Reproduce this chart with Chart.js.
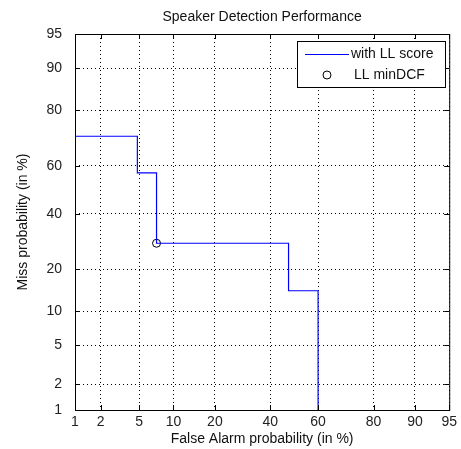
<!DOCTYPE html>
<html>
<head>
<meta charset="utf-8">
<script src="https://cdn.jsdelivr.net/npm/chart.js@4.4.0/dist/chart.umd.min.js"></script>
<style>
  html, body { margin: 0; padding: 0; background: #fff; }
  #wrap { width: 461px; height: 449px; }
</style>
</head>
<body>
<div id="wrap"><canvas id="det"></canvas></div>
<script>
// tick positions on both axes (percent)
const tickValues = [1, 2, 5, 10, 20, 40, 60, 80, 90, 95];
const tickLabels = ["1", "2", "5", "10", "20", "40", "60", "80", "90", "95"];

// DET curve vertices (percent), drawn as a step line
const falseAlarm = [0, 4.8, 7.2, 47.6, 60];
const missProb = [71.4, 57.1, 28.6, 14.3, 0];

// min DCF operating point
const minDcfFa = [7.2];
const minDcfMiss = [28.6];

const chartTitle = "Speaker Detection Performance";
const FONT = '"Liberation Sans", Arial, sans-serif';

// inverse normal cdf (Acklam)
function probit(p) {
    if (p <= 0) return -10;
    if (p >= 1) return 10;
    const a = [-3.969683028665376e+01, 2.209460984245205e+02, -2.759285104469687e+02, 1.383577518672690e+02, -3.066479806614716e+01, 2.506628277459239e+00];
    const b = [-5.447609879822406e+01, 1.615858368580409e+02, -1.556989798598866e+02, 6.680131188771972e+01, -1.328068155288572e+01];
    const c = [-7.784894002430293e-03, -3.223964580411365e-01, -2.400758277161838e+00, -2.549732539343734e+00, 4.374664141464968e+00, 2.938163982698783e+00];
    const d = [7.784695709041462e-03, 3.224671290700398e-01, 2.445134137142996e+00, 3.754408661907416e+00];
    const pl = 0.02425;
    let q, r;
    if (p < pl) {
        q = Math.sqrt(-2 * Math.log(p));
        return (((((c[0] * q + c[1]) * q + c[2]) * q + c[3]) * q + c[4]) * q + c[5]) /
            ((((d[0] * q + d[1]) * q + d[2]) * q + d[3]) * q + 1);
    }
    if (p <= 1 - pl) {
        q = p - 0.5;
        r = q * q;
        return (((((a[0] * r + a[1]) * r + a[2]) * r + a[3]) * r + a[4]) * r + a[5]) * q /
            (((((b[0] * r + b[1]) * r + b[2]) * r + b[3]) * r + b[4]) * r + 1);
    }
    q = Math.sqrt(-2 * Math.log(1 - p));
    return -(((((c[0] * q + c[1]) * q + c[2]) * q + c[3]) * q + c[4]) * q + c[5]) /
        ((((d[0] * q + d[1]) * q + d[2]) * q + d[3]) * q + 1);
}

const toPoints = (xs, ys) => xs.map((x, i) => ({ x: probit(x / 100), y: probit(ys[i] / 100) }));

function detAxis(titleText, titlePad, tickPad) {
    return {
        type: "linear",
        min: probit(tickValues[0] / 100),
        max: probit(tickValues[tickValues.length - 1] / 100),
        afterBuildTicks: (scale) => {
            scale.ticks = tickValues.map((v) => ({ value: probit(v / 100) }));
        },
        ticks: {
            autoSkip: false,
            maxRotation: 0,
            padding: tickPad,
            color: "#222",
            font: { family: FONT, size: 14 },
            callback: (value, index) => tickLabels[index],
        },
        grid: { color: "#000", lineWidth: 1, drawTicks: false },
        border: { display: false, dash: [1, 3] },
        title: {
            display: true,
            text: titleText,
            color: "#111",
            padding: titlePad,
            font: { family: FONT, size: 14 },
        },
    };
}

// white page, title, axes box, inward tick marks and the legend
const matlabFrame = {
    id: "matlabFrame",
    beforeDraw(chart) {
        const ctx = chart.ctx;
        ctx.save();
        ctx.fillStyle = "#fff";
        ctx.fillRect(0, 0, chart.width, chart.height);
        ctx.restore();
    },
    afterDraw(chart) {
        const ctx = chart.ctx;
        const { left, right, top, bottom } = chart.chartArea;
        const xs = chart.scales.x;
        const ys = chart.scales.y;
        ctx.save();

        ctx.font = "14px " + FONT;
        ctx.fillStyle = "#111";
        ctx.textAlign = "center";
        ctx.textBaseline = "middle";
        ctx.fillText(chartTitle, (left + right) / 2, 17);

        ctx.strokeStyle = "#000";
        ctx.lineWidth = 1;
        ctx.setLineDash([]);
        ctx.strokeRect(left + 0.5, top + 0.5, right - left, bottom - top);

        ctx.beginPath();
        tickValues.forEach((v) => {
            const px = Math.round(xs.getPixelForValue(probit(v / 100))) + 0.5;
            ctx.moveTo(px, bottom);
            ctx.lineTo(px, bottom - 5);
            ctx.moveTo(px, top);
            ctx.lineTo(px, top + 5);
            const py = Math.round(ys.getPixelForValue(probit(v / 100))) + 0.5;
            ctx.moveTo(left, py);
            ctx.lineTo(left + 5, py);
            ctx.moveTo(right, py);
            ctx.lineTo(right - 5, py);
        });
        ctx.stroke();

        // legend box
        const lx = 297, ly = 41, lw = 148, lh = 46;
        ctx.fillStyle = "#fff";
        ctx.fillRect(lx, ly, lw, lh);
        ctx.strokeRect(lx + 0.5, ly + 0.5, lw, lh);

        const sets = chart.data.datasets;
        ctx.font = "14px " + FONT;
        ctx.textBaseline = "middle";
        ctx.textAlign = "left";

        ctx.strokeStyle = sets[0].borderColor;
        ctx.beginPath();
        ctx.moveTo(305, 54.5);
        ctx.lineTo(349, 54.5);
        ctx.stroke();
        ctx.fillStyle = "#111";
        ctx.fillText(sets[0].label, 351, 54);

        ctx.strokeStyle = sets[1].borderColor;
        ctx.beginPath();
        ctx.arc(327, 75, 4, 0, Math.PI * 2);
        ctx.stroke();
        ctx.fillText(sets[1].label, 354, 75);
        ctx.restore();
    },
};

new Chart(document.getElementById("det"), {
    type: "scatter",
    data: {
        datasets: [
            {
                type: "line",
                label: "with LL score",
                data: toPoints(falseAlarm, missProb),
                stepped: true,
                borderColor: "#0000ff",
                borderWidth: 1.2,
                pointRadius: 0,
                fill: false,
            },
            {
                label: "LL minDCF",
                data: toPoints(minDcfFa, minDcfMiss),
                pointStyle: "circle",
                pointRadius: 4,
                pointBackgroundColor: "rgba(0,0,0,0)",
                borderColor: "#000",
                pointBorderColor: "#000",
                pointBorderWidth: 1,
            },
        ],
    },
    plugins: [matlabFrame],
    options: {
        responsive: true,
        maintainAspectRatio: false,
        animation: false,
        layout: { padding: { left: 0, right: 9, top: 34, bottom: 0 } },
        plugins: {
            legend: { display: false },
            tooltip: { enabled: false },
            title: { display: false },
        },
        scales: {
            x: Object.assign(detAxis("False Alarm probability (in %)", { top: 0, bottom: 1 }, 4), {
                afterFit: (scale) => { scale.height = 39; },
            }),
            y: Object.assign(detAxis("Miss probability (in %)", { top: 14.6, bottom: 0 }, 13), {
                afterFit: (scale) => { scale.width = 75; },
            }),
        },
    },
});
</script>
</body>
</html>
